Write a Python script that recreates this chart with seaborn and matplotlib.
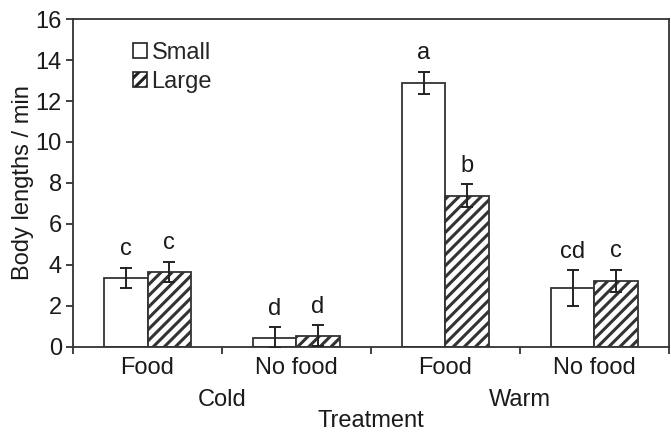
import matplotlib
matplotlib.use("Agg")
import matplotlib.pyplot as plt
import matplotlib.transforms as mtransforms
import seaborn as sns
import pandas as pd
import numpy as np

# ---- data ----
treatments = ["Cold Food", "Cold No food", "Warm Food", "Warm No food"]
tick_labels = ["Food", "No food", "Food", "No food"]
group_labels = ["Cold", "Warm"]
sizes = ["Small", "Large"]
small_vals = [3.37, 0.45, 12.89, 2.88]
large_vals = [3.66, 0.55, 7.38, 3.22]
small_err = [0.50, 0.52, 0.54, 0.86]
large_err = [0.50, 0.51, 0.56, 0.55]
small_letters = ["c", "d", "a", "cd"]
large_letters = ["c", "d", "b", "c"]

df = pd.DataFrame({
    "Treatment": treatments * 2,
    "Size": ["Small"] * 4 + ["Large"] * 4,
    "value": small_vals + large_vals,
})
errs = {"Small": small_err, "Large": large_err}
letters = {"Small": small_letters, "Large": large_letters}
vals = {"Small": small_vals, "Large": large_vals}

FS = 17
TXT = "#1a1a1a"

sns.set_style("ticks")
plt.rcParams["font.family"] = ["Liberation Sans", "DejaVu Sans"]
plt.rcParams["hatch.linewidth"] = 2.2
plt.rcParams["hatch.color"] = "#111111"

fig = plt.figure(figsize=(6.71, 4.34), dpi=100)
ax = fig.add_axes([0.1088, 0.2005, 0.8882, 0.7557])

sns.barplot(data=df, x="Treatment", y="value", hue="Size", order=treatments,
            hue_order=sizes, palette={"Small": "white", "Large": "white"},
            width=0.58, errorbar=None, edgecolor="#333333", linewidth=1.3,
            legend=True, ax=ax)

for cont, size in zip(ax.containers, sizes):
    for i, bar in enumerate(cont.patches):
        if size == "Large":
            bar.set_hatch("///")
        cx = bar.get_x() + bar.get_width() / 2
        v = vals[size][i]
        e = errs[size][i]
        ax.errorbar(cx, v, yerr=e, fmt="none", ecolor="#222222",
                    elinewidth=1.4, capsize=4, capthick=1.4, zorder=5)
        ax.annotate(letters[size][i], (cx, v + e), xytext=(0, 9),
                    textcoords="offset points", ha="center", va="baseline",
                    fontsize=FS, color=TXT)

ax.set_ylim(0, 16)
ax.set_yticks(np.arange(0, 17, 2))
ax.set_xlim(-0.5, 3.5)
ax.set_xticks(range(4))
ax.set_xticklabels(tick_labels, fontsize=FS, color=TXT)
ax.set_xticks(np.arange(-0.5, 4.0, 1.0), minor=True)
ax.tick_params(axis="x", which="major", length=0, pad=7)
ax.tick_params(axis="x", which="minor", length=5, width=1.3, direction="out", color="#333333")
ax.tick_params(axis="y", length=5, width=1.3, direction="out", labelsize=FS,
               color="#333333", labelcolor=TXT, pad=3)
ax.set_xlabel("")
ax.set_ylabel("Body lengths / min", fontsize=FS, color=TXT, labelpad=1)

for s in ax.spines.values():
    s.set_visible(True)
    s.set_color("#333333")
    s.set_linewidth(1.3)

trans = mtransforms.blended_transform_factory(ax.transData, fig.transFigure)
ax.text(0.5, 1 - 400 / 434, group_labels[0], transform=trans, ha="center",
        va="center", fontsize=FS, color=TXT)
ax.text(2.5, 1 - 400 / 434, group_labels[1], transform=trans, ha="center",
        va="center", fontsize=FS, color=TXT)
ax.text(1.5, 1 - 421 / 434, "Treatment", transform=trans, ha="center",
        va="center", fontsize=FS, color=TXT)

leg = ax.legend(loc="upper left", bbox_to_anchor=(0.1, 0.93), frameon=False,
                fontsize=FS, handlelength=0.6, handleheight=0.6,
                handletextpad=0.2, labelspacing=0.3, borderaxespad=0,
                borderpad=0)
for h in leg.legend_handles:
    h.set_edgecolor("#222222")
    h.set_linewidth(1.2)
leg.legend_handles[1].set_hatch("///")

fig.savefig("out.png", dpi=100)
